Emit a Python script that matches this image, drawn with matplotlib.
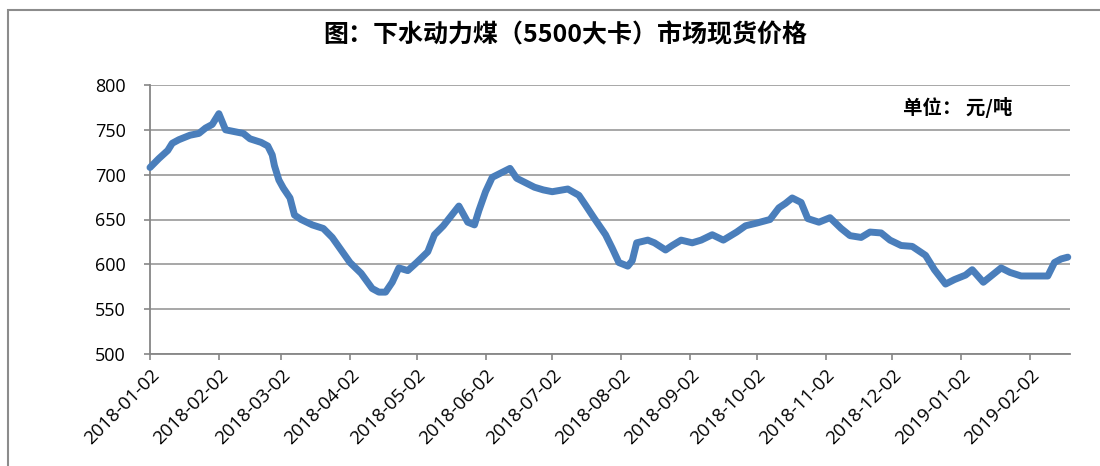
import matplotlib
matplotlib.use("Agg")
import matplotlib.pyplot as plt
import matplotlib.patches as mpatches
import pandas as pd

plt.rcParams['font.family'] = ['Open Sans', 'Noto Sans CJK SC', 'DejaVu Sans']

dates = [
    "2018-01-02", "2018-01-06", "2018-01-10", "2018-01-12", "2018-01-15", "2018-01-20",
    "2018-01-24", "2018-01-27", "2018-01-30", "2018-02-02", "2018-02-05", "2018-02-09",
    "2018-02-13", "2018-02-16", "2018-02-21", "2018-02-24", "2018-02-26", "2018-02-27",
    "2018-03-01", "2018-03-03", "2018-03-06", "2018-03-08", "2018-03-11", "2018-03-16",
    "2018-03-21", "2018-03-25", "2018-03-29", "2018-04-02", "2018-04-07", "2018-04-12",
    "2018-04-15", "2018-04-18", "2018-04-21", "2018-04-24", "2018-04-28", "2018-05-02",
    "2018-05-07", "2018-05-10", "2018-05-14", "2018-05-21", "2018-05-25", "2018-05-28",
    "2018-05-30", "2018-06-02", "2018-06-05", "2018-06-09", "2018-06-13", "2018-06-16",
    "2018-06-20", "2018-06-24", "2018-06-28", "2018-07-02", "2018-07-09", "2018-07-14",
    "2018-07-17", "2018-07-21", "2018-07-26", "2018-07-29", "2018-08-01", "2018-08-05",
    "2018-08-07", "2018-08-09", "2018-08-14", "2018-08-17", "2018-08-22", "2018-08-25",
    "2018-08-29", "2018-09-03", "2018-09-07", "2018-09-12", "2018-09-17", "2018-09-23",
    "2018-09-27", "2018-10-02", "2018-10-08", "2018-10-12", "2018-10-15", "2018-10-18",
    "2018-10-22", "2018-10-25", "2018-10-30", "2018-11-04", "2018-11-09", "2018-11-13",
    "2018-11-18", "2018-11-22", "2018-11-27", "2018-12-01", "2018-12-06", "2018-12-11",
    "2018-12-17", "2018-12-21", "2018-12-26", "2018-12-30", "2019-01-04", "2019-01-07",
    "2019-01-12", "2019-01-16", "2019-01-20", "2019-01-24", "2019-01-29", "2019-02-02",
    "2019-02-10", "2019-02-13", "2019-02-16", "2019-02-19",
]
prices = [
    708, 718, 727, 735, 739, 744,
    746, 752, 756, 768, 750, 748,
    746, 740, 736, 732, 722, 710,
    694, 685, 674, 655, 650, 644,
    640, 630, 616, 602, 590, 573,
    569, 569, 580, 596, 593, 602,
    614, 633, 643, 665, 647, 644,
    660, 681, 697, 702, 707, 696,
    691, 686, 683, 681, 684, 677,
    666, 651, 633, 618, 602, 598,
    604, 624, 627, 624, 616, 621,
    627, 624, 627, 633, 627, 636,
    643, 646, 650, 663, 668, 674,
    669, 651, 647, 652, 640, 632,
    630, 636, 635, 627, 621, 620,
    610, 594, 578, 583, 588, 594,
    580, 588, 596, 591, 587, 587,
    587, 602, 606, 608,
]

x_ticks = ["2018-01-02", "2018-02-02", "2018-03-02", "2018-04-02", "2018-05-02",
           "2018-06-02", "2018-07-02", "2018-08-02", "2018-09-02", "2018-10-02",
           "2018-11-02", "2018-12-02", "2019-01-02", "2019-02-02"]
y_ticks = [500, 550, 600, 650, 700, 750, 800]
x_end = "2019-02-20"

title = "图：下水动力煤（5500大卡）市场现货价格"
unit = "单位： 元/吨"

d = pd.to_datetime(dates)
fig = plt.figure(figsize=(11, 4.66), dpi=100)
ax = fig.add_axes([150/1100, 1-354/466, 920/1100, 269/466])

ax.plot(d, prices, color="#4a7ebb", lw=5, solid_joinstyle="round",
        solid_capstyle="round", zorder=3, clip_on=False)

ax.set_ylim(500, 800)
ax.set_yticks(y_ticks)
ax.set_xlim(pd.Timestamp(x_ticks[0]), pd.Timestamp(x_end))
xt = pd.to_datetime(x_ticks)
ax.set_xticks(xt)
ax.set_xticklabels(x_ticks, rotation=45, ha="right", rotation_mode="anchor",
                   fontsize=13.5)
ax.tick_params(axis="y", labelsize=13, length=4.5, color="#868686", width=1.2, pad=13)
ax.tick_params(axis="x", length=4.5, color="#868686", width=1.2, pad=4)

ax.grid(axis="y", color="#a0a0a0", lw=1.3)
ax.set_axisbelow(True)
for s in ["top", "right"]:
    ax.spines[s].set_visible(False)
for s in ["left", "bottom"]:
    ax.spines[s].set_color("#868686")
    ax.spines[s].set_linewidth(1.3)

fig.text(565/1100, 1-35/466, title, ha="center", va="center", fontsize=18,
         fontweight="bold", family=["Noto Sans CJK SC", "DejaVu Sans"])
fig.text(958/1100, 1-108/466, unit, ha="center", va="center", fontsize=14,
         fontweight="bold", family=["Noto Sans CJK SC", "DejaVu Sans"])

border = mpatches.Rectangle((8/1100, -0.1), 1.2, 1 - 10/466 + 0.1,
                            transform=fig.transFigure, fill=False,
                            edgecolor="#8c8c8c", lw=1.5, clip_on=False)
fig.patches.append(border)

fig.savefig("out.png", dpi=100)
